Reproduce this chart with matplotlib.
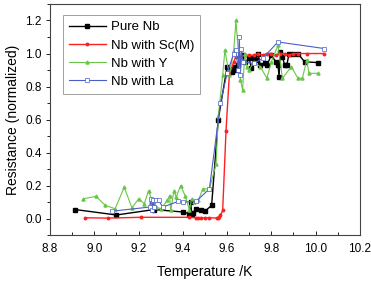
import matplotlib
matplotlib.use('Agg')
import matplotlib.pyplot as plt
from matplotlib.ticker import MultipleLocator

plt.rcParams['font.family'] = ['Liberation Sans', 'DejaVu Sans']

# Pure Nb
nb_t = [8.913, 9.10, 9.27, 9.40, 9.43, 9.435, 9.44, 9.445, 9.46, 9.48, 9.50, 9.53,
        9.56, 9.60, 9.62, 9.63, 9.64, 9.65, 9.67, 9.68, 9.70, 9.71, 9.72, 9.73, 9.74,
        9.75, 9.77, 9.78, 9.80, 9.82, 9.83, 9.835, 9.84, 9.85, 9.86, 9.87, 9.88, 9.90,
        9.92, 9.95, 10.01]
nb_r = [0.055, 0.022, 0.055, 0.04, 0.03, 0.10, 0.03, 0.035, 0.06, 0.05, 0.045, 0.08,
        0.60, 0.92, 0.89, 0.92, 0.90, 0.93, 0.99, 0.95, 0.97, 0.91, 0.97, 0.96, 1.00,
        0.93, 0.94, 0.93, 0.99, 0.95, 0.93, 0.86, 1.01, 0.98, 0.93, 0.93, 1.00, 1.00,
        1.00, 0.95, 0.945]

# Nb with Sc(M)
sc_t = [8.96, 9.06, 9.21, 9.43, 9.46, 9.47, 9.48, 9.50, 9.52, 9.555, 9.56, 9.565,
        9.57, 9.58, 9.595, 9.61, 9.63, 9.64, 9.66, 9.68, 9.70, 9.72, 9.74, 9.76,
        9.78, 9.80, 9.82, 9.84, 9.86, 9.88, 9.90, 9.92, 9.96, 10.04]
sc_r = [0.005, 0.003, 0.008, 0.008, 0.005, 0.003, 0.005, 0.003, 0.005, 0.003, 0.006,
        0.01, 0.02, 0.05, 0.53, 0.87, 0.95, 0.98, 0.98, 0.99, 0.99, 0.99, 1.00, 0.99,
        1.00, 1.00, 0.99, 1.00, 1.00, 0.99, 1.00, 1.00, 1.00, 1.00]

# Nb with Y
y_t = [8.951, 9.008, 9.049, 9.094, 9.135, 9.17, 9.20, 9.226, 9.245, 9.265, 9.28,
       9.30, 9.33, 9.34, 9.345, 9.36, 9.37, 9.39, 9.41, 9.43, 9.44, 9.45, 9.47,
       9.49, 9.52, 9.55, 9.56, 9.58, 9.59, 9.61, 9.63, 9.64, 9.66, 9.67, 9.68,
       9.69, 9.70, 9.72, 9.75, 9.78, 9.80, 9.83, 9.85, 9.89, 9.92, 9.94, 9.96,
       9.97, 10.01]
y_r = [0.12, 0.135, 0.08, 0.06, 0.19, 0.065, 0.12, 0.09, 0.17, 0.09, 0.07,
       0.06, 0.11, 0.14, 0.05, 0.17, 0.13, 0.20, 0.14, 0.05, 0.12, 0.10, 0.11,
       0.18, 0.18, 0.33, 0.62, 0.87, 1.02, 0.87, 1.02, 1.20, 0.84, 0.78, 1.00,
       0.92, 0.90, 0.95, 0.92, 0.85, 0.95, 1.05, 0.85, 0.92, 0.85, 0.85, 0.96,
       0.88, 0.88]

# Nb with La
la_t = [9.08, 9.25, 9.255, 9.26, 9.265, 9.27, 9.28, 9.29, 9.31, 9.38, 9.40, 9.46,
        9.52, 9.57, 9.60, 9.63, 9.64, 9.65, 9.655, 9.66, 9.665, 9.67, 9.72, 9.76,
        9.83, 10.04]
la_r = [0.045, 0.07, 0.12, 0.05, 0.11, 0.07, 0.11, 0.11, 0.07, 0.105, 0.10, 0.105,
        0.18, 0.70, 0.88, 1.00, 1.02, 0.90, 1.10, 0.87, 1.03, 0.95, 0.94, 0.97,
        1.07, 1.03]

fig = plt.figure(figsize=(3.71, 2.85), dpi=100)
ax = fig.add_axes([0.135, 0.175, 0.835, 0.811])

ax.plot(nb_t, nb_r, color='black', marker='s', ms=2.2, lw=1.0, label='Pure Nb')
ax.plot(sc_t, sc_r, color='#ff2020', marker='o', ms=1.8, lw=1.0, label='Nb with Sc(M)')
ax.plot(y_t, y_r, color='#6ac64a', marker='^', ms=2.2, lw=0.8, label='Nb with Y')
ax.plot(la_t, la_r, color='#4a5ec8', marker='s', ms=2.6, mfc='white', mew=0.5,
        lw=0.8, label='Nb with La')

ax.set_xlim(8.8, 10.2)
ax.set_ylim(-0.1, 1.3)
ax.xaxis.set_major_locator(MultipleLocator(0.2))
ax.xaxis.set_minor_locator(MultipleLocator(0.1))
ax.yaxis.set_minor_locator(MultipleLocator(0.1))
ax.set_yticks([0.0, 0.2, 0.4, 0.6, 0.8, 1.0, 1.2])
ax.tick_params(axis='x', which='both', direction='in', labelsize=8.5, pad=6)
ax.tick_params(axis='y', which='both', direction='out', labelsize=8.5, pad=3)
ax.tick_params(which='major', length=3, width=0.6)
ax.tick_params(which='minor', length=2, width=0.6)
for s in ax.spines.values():
    s.set_linewidth(0.8)
    s.set_color('#444444')

ax.set_xlabel('Temperature /K', fontsize=10, labelpad=7)
ax.set_ylabel('Resistance (normalized)', fontsize=10, labelpad=4)

leg = ax.legend(loc='upper left', fontsize=9.5, frameon=True, fancybox=False,
                edgecolor='#888888', handlelength=2.8, borderpad=0.45,
                labelspacing=0.45, handletextpad=0.4, bbox_to_anchor=(0.02, 0.98))
leg.get_frame().set_linewidth(0.7)

fig.savefig('out.png', dpi=100)
